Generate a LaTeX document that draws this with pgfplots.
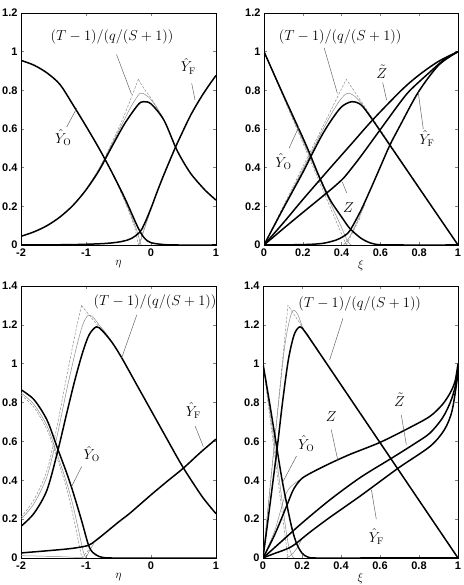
\documentclass[border=0pt]{standalone}
\usepackage{pgfplots}
\pgfplotsset{compat=1.18}
\usepackage{fontspec}
\newfontfamily\tickfont{Liberation Sans}
\tikzset{lab/.style={font=\fontsize{13.7}{16}\selectfont, inner sep=0pt}}
\pgfplotsset{
  panel/.style={scale only axis, axis line style={line width=0.6pt},
    tick align=inside, major tick length=3pt, tick style={line width=0.5pt},
    ticklabel style={font=\tickfont\bfseries\fontsize{11}{13}\selectfont},
    xlabel style={font=\fontsize{12.5}{14}\selectfont, yshift=3pt},
    clip=true},
  thk/.style={black, line width=1.5pt, smooth, tension=0.5, no marks},
  thn/.style={black!45, line width=0.5pt, smooth, tension=0.5, no marks},
  dsh/.style={black!45, line width=0.5pt, dashed, dash pattern=on 2.5pt off 1.5pt, no marks},
  ptr/.style={black!60, line width=0.5pt, sharp plot, no marks},
}
\begin{document}
\begin{tikzpicture}
\useasboundingbox (0,0) rectangle (463pt,585pt);
% ---------------- Panel 1 ----------------
\begin{axis}[panel, at={(21pt,340pt)}, anchor=south west, width=195pt, height=232pt,
  xmin=-2, xmax=1, ymin=0, ymax=1.2,
  xtick={-2,-1,0,1}, xticklabels={-2,-1,0,1},
  ytick={0,0.2,0.4,0.6,0.8,1,1.2}, yticklabels={0,0.2,0.4,0.6,0.8,1,1.2},
  xlabel={$\eta$}]
\addplot[thn] coordinates {(-1.0,0.287)(-0.8,0.392)(-0.6,0.522)(-0.4,0.655)(-0.3,0.72)(-0.169,0.785)(-0.08,0.775)(0,0.752)(0.1,0.705)(0.2,0.648)};
\addplot[dsh, smooth] coordinates {(-1.0,0.288)(-0.8,0.395)(-0.6,0.53)(-0.4,0.68)(-0.195,0.857)};
\addplot[dsh, smooth] coordinates {(-0.195,0.857)(-0.1,0.805)(0,0.76)(0.1,0.705)(0.2,0.648)};
\addplot[thn] coordinates {(-0.6,0.375)(-0.45,0.268)(-0.35,0.19)(-0.25,0.105)(-0.2,0.055)(-0.169,0.015)(-0.15,0.0)};
\addplot[dsh, smooth] coordinates {(-0.6,0.375)(-0.45,0.262)(-0.35,0.18)(-0.25,0.09)(-0.195,0.0)};
\addplot[thn] coordinates {(-0.19,0.0)(-0.15,0.03)(-0.1,0.085)(0,0.185)};
\addplot[dsh, smooth] coordinates {(-0.195,0.0)(-0.1,0.09)(0,0.185)};
\addplot[thk] coordinates {(-2,0.955)(-1.8,0.93)(-1.6,0.89)(-1.4,0.83)(-1.2,0.725)(-1,0.615)(-0.8,0.5)(-0.6,0.375)(-0.4,0.24)(-0.2,0.09)(-0.1,0.035)(0,0.012)(0.2,0.002)(0.4,0)(1,0)};
\addplot[thk] coordinates {(-2,0.045)(-1.8,0.068)(-1.6,0.1)(-1.4,0.145)(-1.2,0.205)(-1,0.285)(-0.8,0.385)(-0.6,0.51)(-0.4,0.63)(-0.2,0.725)(-0.118,0.741)(0,0.73)(0.2,0.645)(0.4,0.49)(0.6,0.375)(0.8,0.295)(0.9,0.262)(1,0.232)};
\addplot[thk] coordinates {(-2,0.0)(-1.2,0.002)(-0.7,0.008)(-0.45,0.018)(-0.3,0.034)(-0.169,0.068)(-0.1,0.11)(0,0.19)(0.1,0.28)(0.2,0.365)(0.369,0.5)(0.5,0.595)(0.6,0.665)(0.7,0.725)(0.8,0.78)(0.9,0.83)(1,0.877)};
\addplot[ptr] coordinates {(-0.53,0.985)(-0.3,0.78)};
\addplot[ptr] coordinates {(0.626,0.836)(0.677,0.75)};
\addplot[ptr] coordinates {(-1.297,0.61)(-1.143,0.707)};
\node[lab] at (axis cs:-0.6,1.076) {$(T-1)/(q/(S+1))$};
\node[lab] at (axis cs:0.574,0.925) {$\hat{Y}_{\mathrm{F}}$};
\node[lab] at (axis cs:-1.35,0.555) {$\hat{Y}_{\mathrm{O}}$};
\end{axis}
% ---------------- Panel 2 ----------------
\begin{axis}[panel, at={(264pt,340pt)}, anchor=south west, width=194pt, height=232pt,
  xmin=0, xmax=1, ymin=0, ymax=1.2,
  xtick={0,0.2,0.4,0.6,0.8,1}, xticklabels={0,0.2,0.4,0.6,0.8,1},
  ytick={0,0.2,0.4,0.6,0.8,1,1.2}, yticklabels={0,0.2,0.4,0.6,0.8,1,1.2},
  xlabel={$\xi$}]
\addplot[thn] coordinates {(0,0)(0.1,0.195)(0.2,0.39)(0.3,0.59)(0.36,0.7)(0.4,0.76)(0.43,0.785)(0.46,0.775)(0.5,0.735)(0.55,0.662)(0.6,0.588)};
\addplot[dsh] coordinates {(0,0)(0.424,0.857)(1,0)};
\addplot[thn] coordinates {(0,1)(0.1,0.77)(0.2,0.54)(0.3,0.31)(0.35,0.2)(0.4,0.09)(0.43,0.02)(0.45,0)};
\addplot[dsh] coordinates {(0,1)(0.424,0)};
\addplot[thn] coordinates {(0.41,0)(0.44,0.04)(0.48,0.12)(0.52,0.21)};
\addplot[dsh] coordinates {(0.424,0)(0.5,0.15)};
\addplot[thk] coordinates {(0,1)(0.1,0.775)(0.2,0.555)(0.241,0.46)(0.284,0.355)(0.34,0.235)(0.4,0.145)(0.443,0.085)(0.5,0.035)(0.55,0.01)(0.6,0.001)(0.7,0)(1,0)};
\addplot[thk] coordinates {(0,0)(0.1,0.19)(0.2,0.375)(0.241,0.457)(0.3,0.57)(0.35,0.65)(0.4,0.715)(0.452,0.741)(0.5,0.725)(0.555,0.654)(0.649,0.516)(0.77,0.338)(0.885,0.169)(1,0)};
\addplot[thk] coordinates {(0,0)(0.1,0.115)(0.2,0.235)(0.34,0.397)(0.45,0.522)(0.56,0.647)(0.71,0.802)(0.8,0.88)(0.9,0.95)(1,1)};
\addplot[thk] coordinates {(0,0)(0.1,0.085)(0.2,0.168)(0.3,0.25)(0.36,0.3)(0.409,0.345)(0.45,0.395)(0.5,0.46)(0.598,0.595)(0.7,0.735)(0.753,0.8)(0.85,0.89)(0.93,0.96)(1,1)};
\addplot[thk] coordinates {(0,0)(0.2,0.002)(0.3,0.008)(0.37,0.025)(0.41,0.045)(0.443,0.075)(0.5,0.18)(0.55,0.29)(0.6,0.405)(0.649,0.517)(0.7,0.615)(0.795,0.79)(0.9,0.93)(1,1)};
\addplot[ptr] coordinates {(0.31,1.02)(0.378,0.785)};
\addplot[ptr] coordinates {(0.612,0.84)(0.632,0.75)};
\addplot[ptr] coordinates {(0.821,0.6)(0.795,0.79)};
\addplot[ptr] coordinates {(0.129,0.5)(0.18,0.612)};
\addplot[ptr] coordinates {(0.426,0.27)(0.404,0.325)};
\node[lab] at (axis cs:0.607,0.895) {$\tilde{Z}$};
\node[lab] at (axis cs:0.392,1.078) {$(T-1)/(q/(S+1))$};
\node[lab] at (axis cs:0.84,0.55) {$\hat{Y}_{\mathrm{F}}$};
\node[lab] at (axis cs:0.1,0.43) {$\hat{Y}_{\mathrm{O}}$};
\node[lab] at (axis cs:0.435,0.195) {$Z$};
\end{axis}
% ---------------- Panel 3 ----------------
\begin{axis}[panel, at={(21pt,27pt)}, anchor=south west, width=195pt, height=272pt,
  xmin=-2, xmax=1, ymin=0, ymax=1.4,
  xtick={-2,-1,0,1}, xticklabels={-2,-1,0,1},
  ytick={0,0.2,0.4,0.6,0.8,1,1.2,1.4}, yticklabels={0,0.2,0.4,0.6,0.8,1,1.2,1.4},
  xlabel={$\eta$}]
\addplot[thn] coordinates {(-2,0.2)(-1.8,0.28)(-1.6,0.42)(-1.45,0.62)(-1.3,0.86)(-1.15,1.08)(-1.05,1.2)(-0.964,1.25)(-0.88,1.235)(-0.8,1.2)(-0.7,1.16)(-0.6,1.11)};
\addplot[dsh, smooth] coordinates {(-2,0.21)(-1.8,0.3)(-1.6,0.45)(-1.45,0.67)(-1.3,0.93)(-1.15,1.18)(-1.067,1.30)};
\addplot[dsh, smooth] coordinates {(-1.067,1.30)(-0.95,1.25)(-0.8,1.19)(-0.7,1.16)};
\addplot[thn] coordinates {(-2,0.85)(-1.8,0.79)(-1.6,0.68)(-1.45,0.54)(-1.3,0.39)(-1.2,0.27)(-1.1,0.12)(-1.04,0.03)(-1.0,0.0)};
\addplot[dsh, smooth] coordinates {(-2,0.84)(-1.8,0.775)(-1.6,0.66)(-1.45,0.52)(-1.3,0.36)(-1.2,0.22)(-1.1,0.06)(-1.067,0.0)};
\addplot[thn] coordinates {(-2,0.012)(-1.5,0.008)(-1.2,0.004)(-1.03,0.0)};
\addplot[thn] coordinates {(-1.0,0.0)(-0.95,0.035)(-0.88,0.075)};
\addplot[dsh] coordinates {(-1.067,0.0)(-0.95,0.045)};
\addplot[thk] coordinates {(-2,0.163)(-1.8,0.23)(-1.6,0.35)(-1.43,0.557)(-1.3,0.74)(-1.17,0.917)(-1.05,1.06)(-0.95,1.15)(-0.84,1.19)(-0.75,1.17)(-0.6,1.11)(-0.45,1.03)(-0.2,0.88)(0,0.76)(0.2,0.64)(0.4,0.52)(0.5,0.463)(0.6,0.41)(0.8,0.31)(1,0.228)};
\addplot[thk] coordinates {(-2,0.866)(-1.8,0.815)(-1.6,0.71)(-1.43,0.557)(-1.3,0.44)(-1.2,0.34)(-1.07,0.195)(-0.964,0.069)(-0.9,0.03)(-0.8,0.008)(-0.7,0.001)(-0.6,0)(0,0)(1,0)};
\addplot[thk] coordinates {(-2,0.026)(-1.5,0.04)(-1.2,0.05)(-0.964,0.065)(-0.85,0.09)(-0.7,0.13)(-0.5,0.185)(-0.323,0.231)(0,0.325)(0.25,0.395)(0.5,0.463)(0.75,0.54)(1,0.612)};
\addplot[ptr] coordinates {(-0.22,1.25)(-0.451,1.03)};
\addplot[ptr] coordinates {(0.677,0.68)(0.805,0.574)};
\addplot[ptr] coordinates {(-1.067,0.47)(-1.22,0.369)};
\node[lab] at (axis cs:0.062,1.32) {$(T-1)/(q/(S+1))$};
\node[lab] at (axis cs:0.651,0.76) {$\hat{Y}_{\mathrm{F}}$};
\node[lab] at (axis cs:-0.913,0.535) {$\hat{Y}_{\mathrm{O}}$};
\end{axis}
% ---------------- Panel 4 ----------------
\begin{axis}[panel, at={(263pt,27pt)}, anchor=south west, width=195pt, height=272pt,
  xmin=0, xmax=1, ymin=0, ymax=1.4,
  xtick={0,0.2,0.4,0.6,0.8,1}, xticklabels={0,0.2,0.4,0.6,0.8,1},
  ytick={0,0.2,0.4,0.6,0.8,1,1.2,1.4}, yticklabels={0,0.2,0.4,0.6,0.8,1,1.2,1.4},
  xlabel={$\xi$}]
\addplot[thn] coordinates {(0,0)(0.04,0.4)(0.08,0.8)(0.11,1.08)(0.135,1.22)(0.155,1.275)(0.18,1.25)(0.21,1.17)(0.25,1.114)};
\addplot[dsh] coordinates {(0,0)(0.128,1.30)(1,0)};
\addplot[thn] coordinates {(0,1)(0.04,0.72)(0.08,0.43)(0.11,0.2)(0.13,0.07)(0.15,0.01)(0.16,0)};
\addplot[dsh] coordinates {(0,1)(0.128,0)};
\addplot[thn] coordinates {(0,0)(0.06,0.14)(0.1,0.28)(0.12,0.335)(0.14,0.365)(0.17,0.39)(0.2,0.41)};
\addplot[thn] coordinates {(0.12,0)(0.15,0.02)(0.18,0.06)(0.2,0.1)};
\addplot[thk] coordinates {(0,0)(0.03,0.23)(0.072,0.56)(0.1,0.8)(0.13,1.02)(0.16,1.15)(0.19,1.19)(0.22,1.158)(0.25,1.114)(0.5,0.7425)(0.75,0.371)(1,0)};
\addplot[thk] coordinates {(0,1)(0.035,0.79)(0.072,0.56)(0.1,0.39)(0.142,0.18)(0.17,0.08)(0.2,0.025)(0.23,0.005)(0.27,0)(0.5,0)(1,0)};
\addplot[thk] coordinates {(0,0)(0.06,0.12)(0.12,0.265)(0.15,0.34)(0.17,0.375)(0.2,0.41)(0.25,0.44)(0.35,0.49)(0.45,0.535)(0.6,0.595)(0.75,0.67)(0.856,0.729)(0.92,0.79)(0.96,0.85)(0.985,0.91)(1,1.0)};
\addplot[thk] coordinates {(0,0)(0.1,0.09)(0.2,0.18)(0.344,0.3)(0.5,0.415)(0.66,0.514)(0.78,0.59)(0.856,0.643)(0.92,0.72)(0.96,0.8)(0.985,0.88)(1,0.98)};
\addplot[thk] coordinates {(0,0)(0.05,0.02)(0.1,0.038)(0.14,0.055)(0.17,0.075)(0.2,0.1)(0.25,0.14)(0.344,0.21)(0.5,0.32)(0.694,0.463)(0.856,0.574)(0.93,0.66)(0.97,0.76)(1,0.95)};
\addplot[ptr] coordinates {(0.41,1.234)(0.342,1.02)};
\addplot[ptr] coordinates {(0.35,0.66)(0.385,0.497)};
\addplot[ptr] coordinates {(0.709,0.737)(0.735,0.583)};
\addplot[ptr] coordinates {(0.581,0.2)(0.556,0.351)};
\addplot[ptr] coordinates {(0.172,0.525)(0.103,0.394)};
\node[lab] at (axis cs:0.496,1.31) {$(T-1)/(q/(S+1))$};
\node[lab] at (axis cs:0.35,0.729) {$Z$};
\node[lab] at (axis cs:0.70,0.814) {$\tilde{Z}$};
\node[lab] at (axis cs:0.581,0.11) {$\hat{Y}_{\mathrm{F}}$};
\node[lab] at (axis cs:0.222,0.59) {$\hat{Y}_{\mathrm{O}}$};
\end{axis}
\end{tikzpicture}
\end{document}
